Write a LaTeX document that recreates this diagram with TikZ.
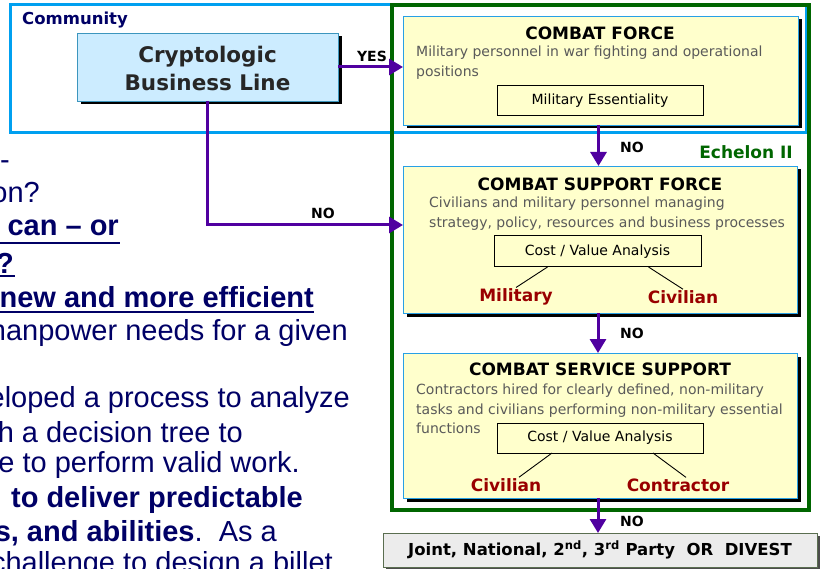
\documentclass[tikz,border=0pt]{standalone}
\usepackage{fontspec}
\setmainfont{Liberation Sans}
\newfontfamily\diag{DejaVu Sans}
\usetikzlibrary{arrows.meta,shadows}

\definecolor{commblue}{RGB}{0,160,240}
\definecolor{echgreen}{RGB}{0,102,0}
\definecolor{flowpurple}{RGB}{80,0,160}
\definecolor{navytext}{RGB}{0,0,102}
\definecolor{cblfill}{RGB}{204,236,255}
\definecolor{cblborder}{RGB}{60,150,190}
\definecolor{boxfill}{RGB}{255,255,204}
\definecolor{boxborder}{RGB}{40,160,230}
\definecolor{desctext}{RGB}{90,90,90}
\definecolor{choicered}{RGB}{153,0,0}
\definecolor{jointfill}{RGB}{236,236,236}
\definecolor{jointborder}{RGB}{90,110,80}

\tikzset{
  frame/.style={draw, fill=none, inner sep=0pt, outer sep=0pt},
  community/.style={frame, draw=commblue, line width=3pt},
  echelon/.style={frame, draw=echgreen, line width=4pt},
  hardshadow/.style={drop shadow={shadow xshift=3.5pt, shadow yshift=-3.5pt, opacity=1, fill=black}},
  cblbox/.style={draw=cblborder, fill=cblfill, line width=0.8pt, inner sep=0pt, outer sep=0pt, hardshadow},
  tierbox/.style={draw=boxborder, fill=boxfill, line width=0.8pt, inner sep=0pt, outer sep=0pt, hardshadow},
  analysisbox/.style={draw=black, fill=boxfill, line width=1pt, inner sep=0pt, outer sep=0pt,
    font=\diag\fontsize{14}{16}\selectfont},
  jointbox/.style={draw=jointborder, fill=jointfill, line width=1pt, inner sep=0pt, outer sep=0pt,
    drop shadow={shadow xshift=2.5pt, shadow yshift=-2.5pt, opacity=1, fill=black!70}},
  tiertitle/.style={font=\diag\bfseries\fontsize{17}{19}\selectfont, inner sep=0pt},
  tierdesc/.style={font=\diag\fontsize{14}{19.3}\selectfont, text=desctext, align=left, anchor=north west, inner sep=0pt},
  choice/.style={font=\diag\bfseries\fontsize{17}{19}\selectfont, text=choicered, inner sep=1pt},
  flowlabel/.style={font=\diag\bfseries\fontsize{14}{16}\selectfont, inner sep=0pt},
  flow/.style={draw=flowpurple, line width=3pt, -{Triangle[width=16pt,length=14pt]}},
  branch/.style={draw=black, line width=0.9pt},
  bodytext/.style={text=navytext, inner sep=0pt, anchor=east, font=\fontsize{29}{33}\selectfont},
  boldtext/.style={bodytext, font=\bfseries\fontsize{29}{33}\selectfont},
  rule/.style={draw=navytext, line width=2.5pt}
}

\begin{document}
\begin{tikzpicture}[x=1pt,y=-1pt]
\useasboundingbox (0,0) rectangle (824,569);
\fill[white] (0,0) rectangle (824,569);

% body text of the slide, running off the left edge
\begin{scope}
\clip (0,0) rectangle (824,569);
\node[bodytext] (t1) at (10,160) {t-};
\node[bodytext] (t2) at (40,193) {on?};
\node[boldtext] (t3) at (119,228) {can – or};
\draw[rule] (0,243) -- (120,243);
\node[boldtext] (t4) at (14,263) {?};
\draw[rule] (0,276) -- (15,276);
\node[boldtext] (t5) at (314,297) {new and more efficient};
\draw[rule] (0,312) -- (314,312);
\node[bodytext] (t6) at (348,333) {manpower needs for a given};
\node[bodytext] (t7) at (350,400) {eloped a process to analyze};
\node[bodytext] (t8) at (243,432) {h a decision tree to};
\node[bodytext] (t9) at (300,465) {e to perform valid work.};
\node[boldtext] (t10) at (303,500) {to deliver predictable};
\node[bodytext] (t11) at (277,533) {\bfseries s, and abilities\mdseries.\ \ As a};
\node[bodytext] (t12) at (333,565) {challenge to design a billet};
\end{scope}

% outer frames
\node[community, minimum width=796pt, minimum height=128pt] (comm) at (408,69) {};
\node[font=\diag\bfseries\fontsize{16.5}{18}\selectfont, text=navytext, anchor=west, inner sep=0pt] (commlabel) at (22,20) {Community};

\node[cblbox, minimum width=261pt, minimum height=68pt] (cbl) at (207.5,67) {};
\node[font=\diag\bfseries\fontsize{21.5}{28}\selectfont, align=center, inner sep=0pt, text=black!85] (cbltext) at (207.5,68) {Cryptologic\\Business Line};

% combat force
\node[tierbox, minimum width=395pt, minimum height=109pt] (cf) at (600.5,70.5) {};
\node[tiertitle] (cftitle) at (600,33) {COMBAT FORCE};
\node[tierdesc] (cfdesc) at (416,46) {Military personnel in war fighting and operational\\positions};
\node[analysisbox, minimum width=206pt, minimum height=30pt] (mess) at (600,101) {Military Essentiality};

% combat support force
\node[tierbox, minimum width=394pt, minimum height=147pt] (csf) at (600,239.5) {};
\node[tiertitle] (csftitle) at (600,184) {COMBAT SUPPORT FORCE};
\node[tierdesc] (csfdesc) at (429,197) {Civilians and military personnel managing\\strategy, policy, resources and business processes};
\node[analysisbox, minimum width=207pt, minimum height=31pt] (cva1) at (597.5,251.5) {Cost / Value Analysis};
\node[choice] (mil) at (516,297) {Military};
\node[choice] (civ1) at (683,297) {Civilian};

% combat service support
\node[tierbox, minimum width=394pt, minimum height=145pt] (css) at (600,425.5) {};
\node[tiertitle] (csstitle) at (600,369) {COMBAT SERVICE SUPPORT};
\node[tierdesc] (cssdesc) at (416,384) {Contractors hired for clearly defined, non-military\\tasks and civilians performing non-military essential\\functions};
\node[analysisbox, minimum width=206pt, minimum height=30pt] (cva2) at (600,438) {Cost / Value Analysis};
\node[choice] (civ2) at (506,485) {Civilian};
\node[choice] (con) at (678,485) {Contractor};

% echelon frame drawn over the tiers
\node[echelon, minimum width=417pt, minimum height=505pt] (ech) at (600.5,257.5) {};
\node[font=\diag\bfseries\fontsize{17}{19}\selectfont, text=echgreen, anchor=east, inner sep=0pt] (echlabel) at (793,152) {Echelon II};

% final outcome
\node[jointbox, minimum width=434pt, minimum height=34pt, font=\diag\bfseries\fontsize{16.5}{18}\selectfont] (joint) at (600,550)
  {Joint, National, 2\textsuperscript{nd}, 3\textsuperscript{rd} Party\ \ OR\ \ DIVEST};

% decision flow
\coordinate (csfin) at (403,225);
\draw[flow] (cbl.east) -- (cbl.east -| cf.west);
\node[flowlabel] (yes) at (372,56) {YES};
\draw[flow] (cbl.south) |- (csfin);
\node[flowlabel] (no1) at (323,213) {NO};
\draw[flow] ([xshift=-2pt]cf.south) -- ([xshift=-2pt]cf.south |- csf.north);
\node[flowlabel] (no2) at (632,147) {NO};
\draw[flow] ([xshift=-2pt]csf.south) -- ([xshift=-2pt]csf.south |- css.north);
\node[flowlabel] (no3) at (632,333) {NO};
\draw[flow] ([xshift=-2pt]css.south) -- ([xshift=-2pt]css.south |- joint.north);
\node[flowlabel] (no4) at (632,521) {NO};

% analysis branches
\draw[branch] ([xshift=-50pt]cva1.south) -- (mil.north);
\draw[branch] ([xshift=51pt]cva1.south) -- (civ1.north);
\draw[branch] ([xshift=-48pt]cva2.south) -- ([xshift=13pt]civ2.north);
\draw[branch] ([xshift=53pt]cva2.south) -- ([xshift=8pt]con.north);
\end{tikzpicture}
\end{document}
